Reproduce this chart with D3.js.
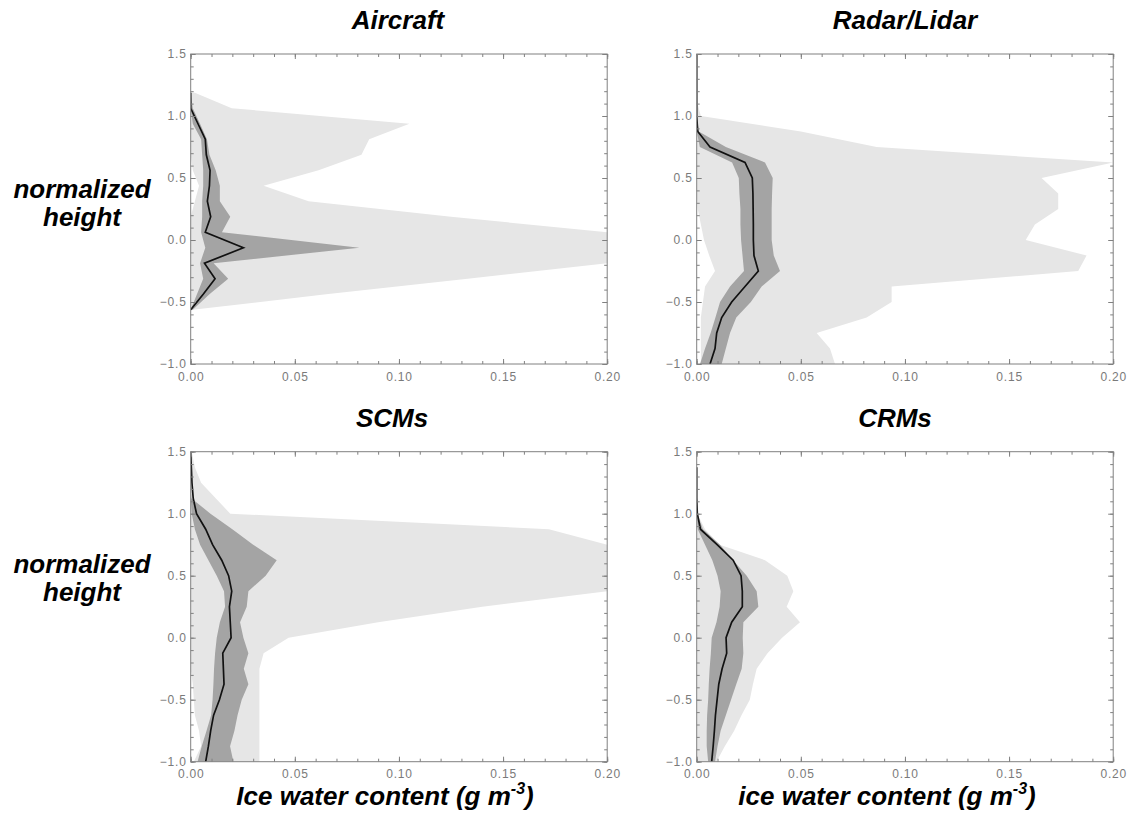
<!DOCTYPE html>
<html>
<head>
<meta charset="utf-8">
<script src="https://cdn.jsdelivr.net/npm/d3@7"></script>
<style>
  body { margin: 0; background: #fff; }
  svg { display: block; font-family: "Liberation Sans", Arial, sans-serif; }
  .tick text { fill: #7a7a7a; font-size: 12px; letter-spacing: 0.8px; font-family: "Liberation Sans", Arial, sans-serif; }
  .tick line { stroke: #808080; }
  .big { font-weight: bold; font-style: italic; font-size: 26px; fill: #000; }
</style>
</head>
<body>
<svg id="chart" width="1130" height="813"></svg>
<script>
// normalized height levels and ice water content (g m-3)

const aircraftHeights = [1.1875, 1.0625, 0.9375, 0.8125, 0.6875, 0.5625, 0.4375, 0.3125, 0.1875, 0.0625, -0.0625, -0.1875, -0.3125, -0.4375, -0.5625];
const aircraftMean    = [0, 0, 0.0035, 0.007, 0.0075, 0.0093, 0.009, 0.008, 0.0096, 0.007, 0.0253, 0.0066, 0.0117, 0.006, 0];
const aircraftDarkLo  = [0, 0, 0.001, 0.005, 0.0055, 0.006, 0.006, 0.0055, 0.0055, 0.005, 0.007, 0.0045, 0.006, 0.003, 0];
const aircraftDarkHi  = [0, 0.001, 0.0045, 0.0078, 0.009, 0.012, 0.014, 0.014, 0.019, 0.015, 0.081, 0.011, 0.018, 0.009, 0.001];
const aircraftLightLo = [0, 0, 0, 0, 0, 0.001, 0.004, 0.002, 0, 0, 0, 0, 0, 0, 0];
const aircraftLightHi = [0.002, 0.0197, 0.105, 0.0857, 0.082, 0.0614, 0.035, 0.0566, 0.125, 0.2, 0.26, 0.2, 0.133, 0.065, 0.001];

const radarHeights = [1.5, 1.375, 1.25, 1.125, 1.0, 0.875, 0.75, 0.625, 0.5, 0.375, 0.25, 0.125, 0, -0.125, -0.25, -0.375, -0.5, -0.625, -0.75, -0.875, -1.0];
const radarMean    = [0, 0, 0, 0, 0, 0.0005, 0.0064, 0.0232, 0.0267, 0.027, 0.0271, 0.0272, 0.0272, 0.0275, 0.0296, 0.0232, 0.0168, 0.012, 0.0096, 0.0088, 0.0064];
const radarDarkLo  = [0, 0, 0, 0, 0, 0, 0.0015, 0.017, 0.0202, 0.0205, 0.021, 0.021, 0.0213, 0.022, 0.0227, 0.016, 0.0112, 0.009, 0.0067, 0.004, 0.0016];
const radarDarkHi  = [0, 0, 0, 0, 0, 0.001, 0.014, 0.0328, 0.0365, 0.0362, 0.036, 0.036, 0.036, 0.037, 0.04, 0.0312, 0.026, 0.019, 0.016, 0.014, 0.012];
const radarLightLo = [0, 0, 0, 0, 0, 0, 0, 0, 0, 0, 0.0005, 0.002, 0.0035, 0.006, 0.0088, 0.004, 0.003, 0.002, 0.002, 0.002, 0.002];
const radarLightHi = [0, 0, 0, 0, 0.002, 0.05, 0.0864, 0.2, 0.1656, 0.1736, 0.1736, 0.1624, 0.158, 0.1872, 0.1832, 0.0936, 0.0936, 0.0816, 0.0576, 0.064, 0.0664];

const scmHeights = [1.5, 1.375, 1.25, 1.125, 1.0, 0.875, 0.75, 0.625, 0.5, 0.375, 0.25, 0.125, 0, -0.125, -0.25, -0.375, -0.5, -0.625, -0.75, -0.875, -1.0];
const scmMean    = [0, 0.0003, 0.0006, 0.0012, 0.0028, 0.0072, 0.0105, 0.0149, 0.0182, 0.0197, 0.0186, 0.019, 0.0194, 0.0154, 0.0157, 0.016, 0.0138, 0.011, 0.0096, 0.0085, 0.0072];
const scmDarkLo  = [0, 0, 0, 0, 0.0005, 0.002, 0.0045, 0.0085, 0.0125, 0.016, 0.0165, 0.014, 0.0125, 0.0117, 0.0112, 0.0109, 0.0105, 0.0098, 0.0076, 0.0053, 0.0033];
const scmDarkHi  = [0, 0, 0, 0.0003, 0.0095, 0.02, 0.03, 0.0413, 0.036, 0.0277, 0.0269, 0.0237, 0.0253, 0.0277, 0.0255, 0.0277, 0.0245, 0.0225, 0.021, 0.0189, 0.0205];
const scmLightLo = [0, 0, 0, 0, 0, 0, 0, 0, 0, 0, 0, 0, 0, 0, 0, 0.001, 0.0015, 0.002, 0.004, 0.005, 0.0015];
const scmLightHi = [0.0005, 0.002, 0.005, 0.012, 0.019, 0.172, 0.2, 0.23, 0.23, 0.2, 0.14, 0.09, 0.047, 0.035, 0.033, 0.033, 0.033, 0.033, 0.033, 0.033, 0.033];

const crmHeights = [1.375, 1.25, 1.125, 1.0, 0.875, 0.75, 0.625, 0.5, 0.375, 0.25, 0.125, 0, -0.125, -0.25, -0.375, -0.5, -0.625, -0.75, -0.875, -1.0];
const crmMean    = [0, 0, 0, 0.0003, 0.0018, 0.0098, 0.0175, 0.0213, 0.0219, 0.0219, 0.0168, 0.0141, 0.0144, 0.0122, 0.0106, 0.0098, 0.009, 0.0085, 0.0079, 0.0072];
const crmDarkLo  = [0, 0, 0, 0, 0.0005, 0.004, 0.0075, 0.01, 0.0115, 0.011, 0.0095, 0.0072, 0.0068, 0.0062, 0.0058, 0.0055, 0.005, 0.0048, 0.0048, 0.0055];
const crmDarkHi  = [0, 0, 0, 0.0003, 0.003, 0.0112, 0.0175, 0.024, 0.0288, 0.0296, 0.0224, 0.0221, 0.0224, 0.0216, 0.019, 0.0165, 0.014, 0.0115, 0.01, 0.0088];
const crmLightLo = [0, 0, 0, 0, 0, 0, 0, 0, 0, 0, 0, 0, 0, 0, 0, 0, 0, 0, 0, 0];
const crmLightHi = [0, 0, 0, 0.0003, 0.004, 0.011, 0.0328, 0.0435, 0.0464, 0.0432, 0.0496, 0.041, 0.034, 0.0288, 0.027, 0.0255, 0.0215, 0.018, 0.0135, 0.0095];

const xMajor = [0, 0.05, 0.10, 0.15, 0.20];
const yMajor = [-1.0, -0.5, 0.0, 0.5, 1.0, 1.5];

const panels = [
  { title: "Aircraft",    tx: 398, left: 190.7, top: 54,    h: aircraftHeights, mean: aircraftMean, dLo: aircraftDarkLo, dHi: aircraftDarkHi, lLo: aircraftLightLo, lHi: aircraftLightHi },
  { title: "Radar/Lidar", tx: 905, left: 696.7, top: 54,    h: radarHeights,    mean: radarMean,    dLo: radarDarkLo,    dHi: radarDarkHi,    lLo: radarLightLo,    lHi: radarLightHi },
  { title: "SCMs",        tx: 392, left: 190.7, top: 451.7, h: scmHeights,      mean: scmMean,      dLo: scmDarkLo,      dHi: scmDarkHi,      lLo: scmLightLo,      lHi: scmLightHi },
  { title: "CRMs",        tx: 895, left: 696.7, top: 451.7, h: crmHeights,      mean: crmMean,      dLo: crmDarkLo,      dHi: crmDarkHi,      lLo: crmLightLo,      lHi: crmLightHi }
];

const W = 416.5, H = 310;
const svg = d3.select("#chart");

panels.forEach((p, i) => {
  const x = d3.scaleLinear().domain([0, 0.2]).range([p.left, p.left + W]);
  const y = d3.scaleLinear().domain([-1, 1.5]).range([p.top + H, p.top]);
  const idx = d3.range(p.h.length);

  svg.append("clipPath").attr("id", "clip" + i)
    .append("rect").attr("x", p.left).attr("y", p.top).attr("width", W).attr("height", H);

  const g = svg.append("g").attr("clip-path", `url(#clip${i})`);

  const band = (lo, hi) => d3.area()
    .y(j => y(p.h[j]))
    .x0(j => x(lo[j]))
    .x1(j => x(hi[j]));

  g.append("path").attr("d", band(p.lLo, p.lHi)(idx)).attr("fill", "#e6e6e6");
  g.append("path").attr("d", band(p.dLo, p.dHi)(idx)).attr("fill", "#a4a4a4");
  g.append("path")
    .attr("d", d3.line().x(j => x(p.mean[j])).y(j => y(p.h[j]))(idx))
    .attr("fill", "none").attr("stroke", "#111").attr("stroke-width", 1.7);

  // frame
  svg.append("rect").attr("x", p.left).attr("y", p.top).attr("width", W).attr("height", H)
    .attr("fill", "none").attr("stroke", "#808080").attr("stroke-width", 1);

  const axes = [
    [d3.axisBottom(x).tickValues(xMajor).tickSize(-5).tickPadding(8).tickFormat(d3.format(".2f")), `translate(0,${p.top + H})`],
    [d3.axisBottom(x).ticks(20).tickSize(-3).tickFormat(""), `translate(0,${p.top + H})`],
    [d3.axisTop(x).tickValues(xMajor).tickSize(-5).tickFormat(""), `translate(0,${p.top})`],
    [d3.axisTop(x).ticks(20).tickSize(-3).tickFormat(""), `translate(0,${p.top})`],
    [d3.axisLeft(y).tickValues(yMajor).tickSize(-5).tickPadding(4).tickFormat(d3.format(".1f")), `translate(${p.left},0)`],
    [d3.axisLeft(y).ticks(25).tickSize(-3).tickFormat(""), `translate(${p.left},0)`],
    [d3.axisRight(y).tickValues(yMajor).tickSize(-5).tickFormat(""), `translate(${p.left + W},0)`],
    [d3.axisRight(y).ticks(25).tickSize(-3).tickFormat(""), `translate(${p.left + W},0)`]
  ];
  axes.forEach(([ax, tr]) => {
    const a = svg.append("g").attr("transform", tr).call(ax.tickSizeOuter(0));
    a.select(".domain").remove();
    a.attr("font-family", null).attr("font-size", null);
  });

  svg.append("text").attr("class", "big").attr("x", p.tx).attr("y", p.top - 25)
    .attr("text-anchor", "middle").text(p.title);
});

// y-axis labels
[[198, 226], [573, 601]].forEach(([a, b]) => {
  svg.append("text").attr("class", "big").attr("x", 82).attr("y", a).attr("text-anchor", "middle").text("normalized");
  svg.append("text").attr("class", "big").attr("x", 82).attr("y", b).attr("text-anchor", "middle").text("height");
});

// x-axis labels
[[385, "Ice water content (g m"], [887, "ice water content (g m"]].forEach(([cx, s]) => {
  const t = svg.append("text").attr("class", "big").attr("x", cx).attr("y", 805).attr("text-anchor", "middle");
  t.append("tspan").text(s);
  t.append("tspan").attr("font-size", "16px").attr("dy", -11).text("-3");
  t.append("tspan").attr("dy", 11).text(")");
});
</script>
</body>
</html>
